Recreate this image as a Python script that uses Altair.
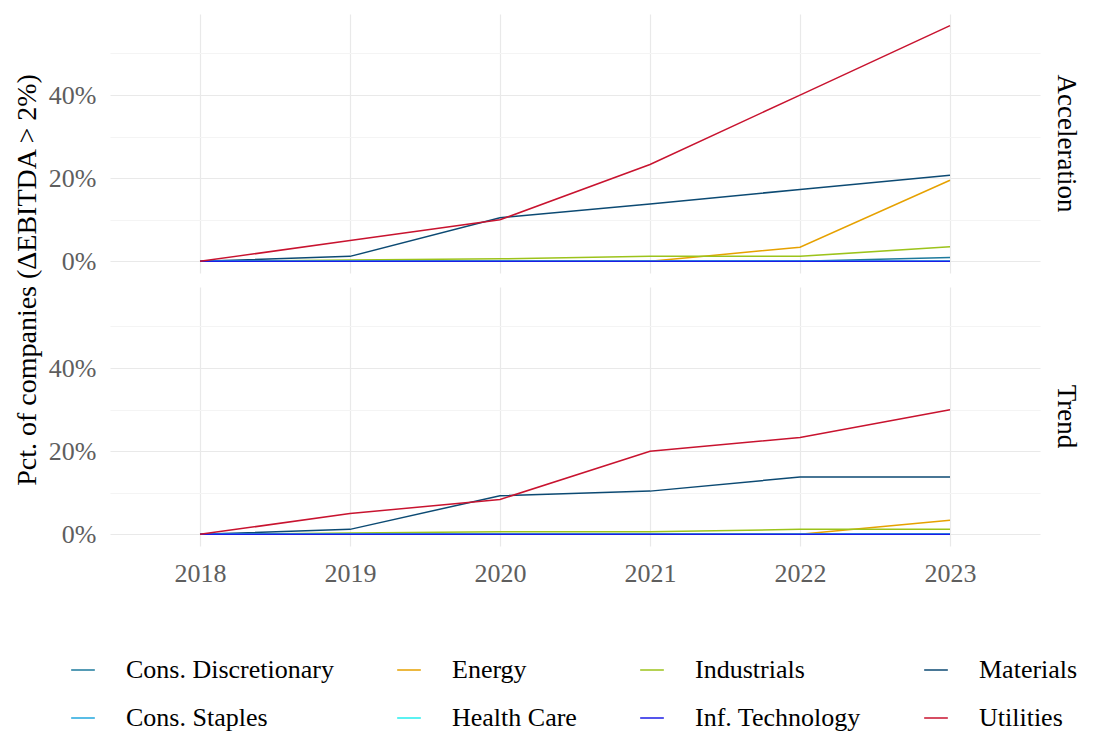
import altair as alt
import pandas as pd

years = [2018, 2019, 2020, 2021, 2022, 2023]
panels = ["Acceleration", "Trend"]
sectors = ["Cons. Discretionary", "Energy", "Industrials", "Materials",
           "Cons. Staples", "Health Care", "Inf. Technology", "Utilities"]
colors = ["#1d7a9c", "#e6a100", "#9cc31b", "#0c4a73",
          "#22a7de", "#25eeee", "#1c1ce6", "#c8132f"]

accel = {
    "Cons. Discretionary": [0, 0, 0, 0, 0, 0.9],
    "Energy": [0, 0, 0, 0, 3.4, 19.5],
    "Industrials": [0, 0.3, 0.6, 1.2, 1.2, 3.5],
    "Materials": [0, 1.2, 10.5, 13.8, 17.3, 20.7],
    "Cons. Staples": [0, 0, 0, 0, 0, 0],
    "Health Care": [0, 0, 0, 0, 0, 0],
    "Inf. Technology": [0, 0, 0, 0, 0, 0],
    "Utilities": [0, 5.0, 10.0, 23.3, 40.0, 56.7],
}
trend = {
    "Cons. Discretionary": [0, 0, 0, 0, 0, 0],
    "Energy": [0, 0, 0, 0, 0, 3.4],
    "Industrials": [0, 0.3, 0.6, 0.6, 1.2, 1.2],
    "Materials": [0, 1.2, 9.3, 10.4, 13.8, 13.8],
    "Cons. Staples": [0, 0, 0, 0, 0, 0],
    "Health Care": [0, 0, 0, 0, 0, 0],
    "Inf. Technology": [0, 0, 0, 0, 0, 0],
    "Utilities": [0, 5.0, 8.4, 20.0, 23.3, 30.0],
}

rows = []
for panel, d in zip(panels, [accel, trend]):
    for s in sectors:
        for yr, v in zip(years, d[s]):
            rows.append({"panel": panel, "sector": s, "year": yr, "pct": v})
df = pd.DataFrame(rows)

FONT = "Liberation Serif"
FS = 26

grid_color = {"condition": {"test": "datum.value % 20 != 0", "value": "#f4f4f4"},
              "value": "#e9e9e9"}

base = alt.Chart(df).mark_line(strokeWidth=1.5).encode(
    x=alt.X("year:Q",
            scale=alt.Scale(domain=[2017.4, 2023.6], nice=False, zero=False),
            axis=alt.Axis(values=years, format="d", title=None, labelFont=FONT,
                          labelFontSize=FS, labelColor="#5e5e5e", domain=False,
                          ticks=False, labelPadding=14, gridColor="#e9e9e9",
                          gridWidth=1.2)),
    y=alt.Y("pct:Q",
            scale=alt.Scale(domain=[-2.8, 59.5], nice=False, zero=False),
            axis=alt.Axis(values=[0, 10, 20, 30, 40, 50],
                          labelExpr="datum.value % 20 == 0 ? datum.value + '%' : ''",
                          title=None,
                          labelFont=FONT, labelFontSize=FS, labelColor="#5e5e5e",
                          domain=False, ticks=False, labelPadding=14,
                          gridColor=grid_color, gridWidth=1.2)),
    color=alt.Color("sector:N",
                    scale=alt.Scale(domain=sectors, range=colors),
                    legend=alt.Legend(title=None, orient="none", direction="horizontal",
                                      columns=4, legendX=-40, legendY=643,
                                      symbolType="stroke", symbolSize=560,
                                      symbolStrokeWidth=1.5, labelFont=FONT,
                                      labelFontSize=26, labelColor="#000000",
                                      labelLimit=400, labelOffset=30,
                                      columnPadding=60, rowPadding=22)),
).properties(width=930, height=259)

chart = base.facet(
    row=alt.Row("panel:N", sort=panels, title="Pct. of companies (ΔEBITDA > 2%)",
                header=alt.Header(titleOrient="left", titleAngle=-90,
                                  titleFont=FONT, titleFontSize=28,
                                  titleFontWeight="normal", titleColor="#000000",
                                  titlePadding=-32,
                                  labelOrient="right", labelAngle=90,
                                  labelFont=FONT, labelFontSize=27,
                                  labelColor="#000000", labelPadding=12)),
    spacing=14,
).configure(padding={"top": 6, "left": 5, "right": 4, "bottom": 0}, font=FONT
).configure_view(stroke="transparent", strokeWidth=0)

chart.save("out.html", embed_options={"renderer": "svg", "actions": False})
